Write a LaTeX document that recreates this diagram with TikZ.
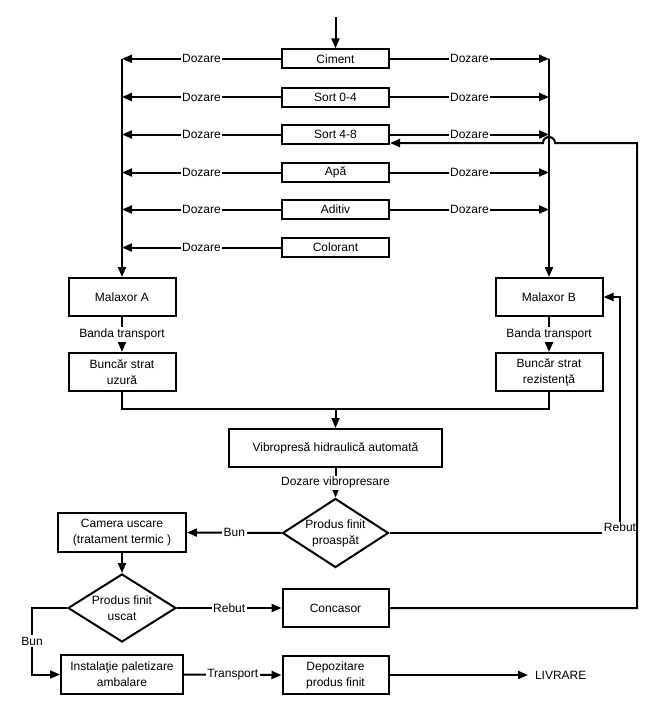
\documentclass[tikz,border=0pt]{standalone}
\usepackage{fontspec}
\setmainfont{Liberation Sans}
\usetikzlibrary{arrows.meta,shapes.geometric}
\begin{document}
\begin{tikzpicture}[x=0.75pt,y=-0.75pt,line width=1.5pt,
  every node/.style={font=\fontsize{9}{12}\selectfont, inner sep=0pt},
  arr/.style={-{Triangle[length=7.5pt,width=6pt]}},
  lbl/.style={fill=white, inner sep=1.2pt},
  src/.style={draw, minimum width=80.25pt, minimum height=14.25pt},
  blk/.style={draw, minimum width=80.25pt, minimum height=28.5pt, align=center},
  dia/.style={draw, diamond, minimum width=79.5pt, minimum height=51.75pt}]
\fill[white] (0,0) rectangle (654,711);
\useasboundingbox (0,0) rectangle (654,711);
% source boxes
\node[src] (cim) at (335.5,58.8) {Ciment};
\node[src] (s04) at (335.5,97) {Sort 0-4};
\node[src] (s48) at (335.5,134.5) {Sort 4-8};
\node[src] (apa) at (335.5,172.5) {Apă};
\node[src] (adi) at (335.5,209.5) {Aditiv};
\node[src] (col) at (335.5,247.5) {Colorant};
% main blocks
\node[blk] (malA) at (122,297) {Malaxor A};
\node[blk] (malB) at (549,297) {Malaxor B};
\node[blk] (bA) at (122,372) {Buncăr strat\\uzură};
\node[blk] (bB) at (549,372) {Buncăr strat\\rezistenţă};
\node[blk, minimum width=159.75pt] (vib) at (335.5,448) {Vibropresă hidraulică automată};
\node[dia] (d1) at (335.5,533) {};
\node[align=center] at (d1) {Produs finit\\proaspăt};
\node[blk, minimum width=96pt, minimum height=29.25pt] (cam) at (122,532.5) {Camera uscare\\(tratament termic )};
\node[dia, minimum width=81pt, minimum height=51pt] (d2) at (122,608) {};
\node[align=center] at (d2) {Produs finit\\uscat};
\node[blk, minimum width=79.5pt] (conc) at (335.5,608) {Concasor};
\node[blk, minimum width=91.5pt, minimum height=29.25pt] (inst) at (122,674.5) {Instalaţie paletizare\\ambalare};
\node[blk, minimum width=79.5pt] (dep) at (335.5,675) {Depozitare\\produs finit};
\node[anchor=west, inner xsep=4.5pt] (liv) at (528,675) {LIVRARE};
% top input
\coordinate (top) at (335.5,17);
\draw[arr] (top) -- (cim.north);
% dosing lines
\draw[arr] (cim.west -| malA.north) -- (malA.north);
\draw[arr] (cim.east -| malB.north) -- (malB.north);
\foreach \n in {cim,s04,s48,apa,adi,col}
  \draw[arr] (\n.west) -- node[lbl]{Dozare} (\n.west -| malA.north);
\foreach \n in {cim,s04,s48,apa,adi}
  \draw[arr] (\n.east) -- node[lbl]{Dozare} (\n.east -| malB.north);
% conveyors
\draw[arr] (malA.south) -- node[lbl]{Banda transport} (bA.north);
\draw[arr] (malB.south) -- node[lbl]{Banda transport} (bB.north);
\coordinate (j) at (335.5,409);
\draw (bA.south) |- (j) -| (bB.south);
\draw[arr] (j) -- (vib.north);
\draw[arr] (vib.south) -- node[lbl]{Dozare vibropresare} (d1.north);
\draw[arr] (d1.west) -- node[lbl]{Bun} (cam.east);
% reject of fresh product back to Malaxor B
\coordinate (rb) at (620,533);
\draw[arr] (d1.east) -- (rb) node[lbl,yshift=4pt]{Rebut} -- (rb |- malB.east) -- (malB.east);
\draw[arr] (cam.south) -- (d2.north);
\draw[arr] (d2.east) -- node[lbl]{Rebut} (conc.west);
\coordinate (bl) at (32,608);
\draw[arr] (d2.west) -- (bl) -- node[lbl]{Bun} (bl |- inst.west) -- (inst.west);
\draw[arr] (inst.east) -- node[lbl]{Transport} (dep.west);
\draw[arr] (dep.east) -- (liv.west);
% crusher return to Sort 4-8
\coordinate (xr) at (637,143);
\draw[arr] (conc.east) -- (conc.east -| xr) -- (xr) -- (555,143)
  arc[start angle=0,end angle=180,radius=4.5pt] -- (s48.east |- xr);
\end{tikzpicture}
\end{document}
